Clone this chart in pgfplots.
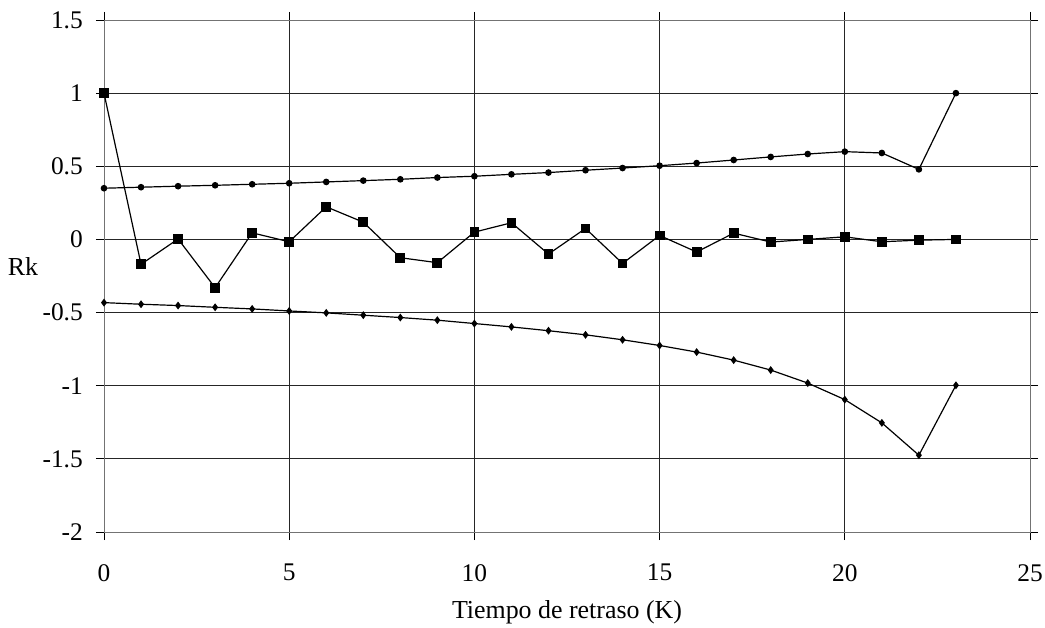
\documentclass[border=0pt]{standalone}
\usepackage{pgfplots}
\pgfplotsset{compat=1.18}
\usepackage{fontspec}
\setmainfont{Liberation Serif}
\begin{document}
\begin{tikzpicture}
\begin{axis}[
  scale only axis,
  width=926bp, height=512bp,
  xmin=0, xmax=25, ymin=-2, ymax=1.5,
  xtick={0,5,...,25}, ytick={-2,-1.5,...,1.5},
  yticklabels={-2,-1.5,-1,-0.5,0,0.5,1,1.5},
  xticklabels={0,5,10,15,20,25},
  /pgf/number format/assume math mode=true,
  grid=major,
  major grid style={black!85, line width=0.8bp},
  axis line style={black!55, line width=0.9bp},
  tick style={black, line width=0.8bp},
  tick align=outside,
  major tick length=8bp,
  every tick label/.append style={font=\fontsize{25.5}{27}\selectfont},
  yticklabel style={inner sep=0pt, xshift=-13bp},
  xticklabel style={inner sep=0pt, yshift=-24bp},
  xlabel={Tiempo de retraso (K)},
  ylabel={Rk},
  label style={font=\fontsize{26}{28}\selectfont},
  xlabel style={at={(axis description cs:0.5,-0.157)}, anchor=center},
  ylabel style={rotate=-90, anchor=west, inner sep=0pt, at={(axis description cs:-0.104,0.518)}},
  clip=false,
]
\coordinate (ll) at (rel axis cs:0,0);
\coordinate (ur) at (rel axis cs:1,1);
\addplot[black, line width=1.2bp, mark=*, mark size=2.7bp] coordinates {
(0,0.350)(1,0.357)(2,0.364)(3,0.370)(4,0.377)(5,0.384)(6,0.393)(7,0.402)
(8,0.411)(9,0.423)(10,0.432)(11,0.445)(12,0.457)(13,0.473)(14,0.488)(15,0.504)
(16,0.522)(17,0.543)(18,0.564)(19,0.584)(20,0.600)(21,0.591)(22,0.479)(23,1.0)};
\addplot[black, line width=1.2bp, mark=square*, mark size=4.3bp] coordinates {
(0,1.0)(1,-0.170)(2,0.003)(3,-0.330)(4,0.045)(5,-0.016)(6,0.223)(7,0.118)
(8,-0.125)(9,-0.159)(10,0.050)(11,0.114)(12,-0.100)(13,0.075)(14,-0.164)(15,0.027)
(16,-0.086)(17,0.043)(18,-0.018)(19,0.0)(20,0.018)(21,-0.016)(22,-0.005)(23,0.0)};
\addplot[black, line width=1.2bp, mark=diamond*, mark size=3bp] coordinates {
(0,-0.432)(1,-0.443)(2,-0.452)(3,-0.464)(4,-0.475)(5,-0.489)(6,-0.502)(7,-0.518)
(8,-0.534)(9,-0.552)(10,-0.575)(11,-0.598)(12,-0.624)(13,-0.652)(14,-0.686)(15,-0.725)
(16,-0.770)(17,-0.825)(18,-0.893)(19,-0.982)(20,-1.095)(21,-1.254)(22,-1.475)(23,-0.997)};
\end{axis}
\pgfresetboundingbox
\path ([shift={(-104bp,-96bp)}]ll) rectangle ([shift={(15bp,20bp)}]ur);
\end{tikzpicture}
\end{document}
